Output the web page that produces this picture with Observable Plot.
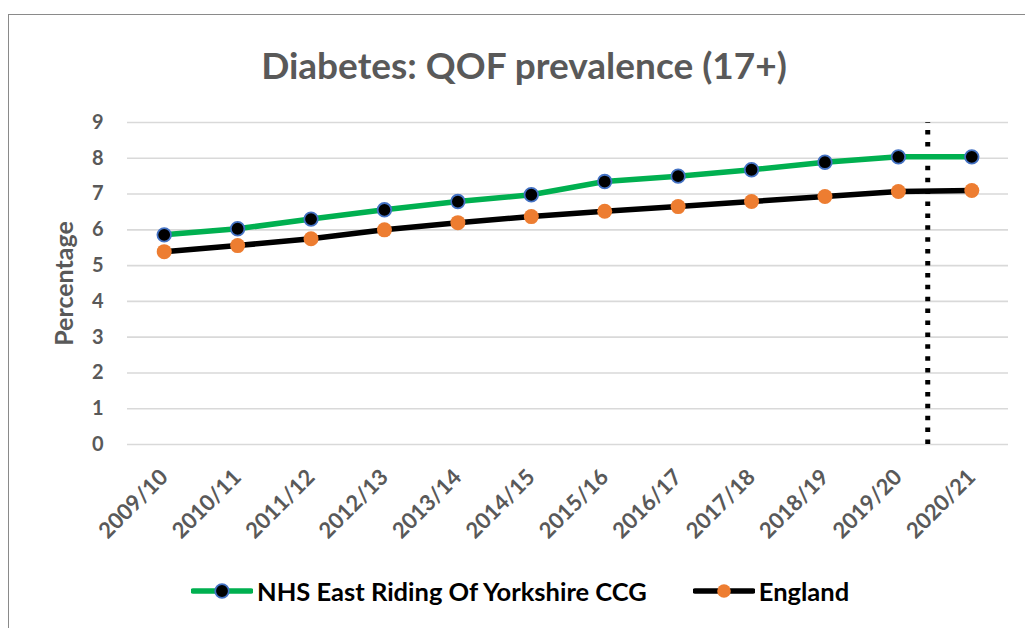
<!DOCTYPE html>
<html>
<head>
<meta charset="utf-8">
<script src="https://cdn.jsdelivr.net/npm/d3@7"></script>
<script src="https://cdn.jsdelivr.net/npm/@observablehq/plot@0.6"></script>
<style>
  html, body { margin: 0; padding: 0; background: #fff; overflow: hidden; }
  body { width: 1025px; height: 628px; position: relative; font-family: Lato, "Open Sans", sans-serif; }
  #frame {
    position: absolute; left: 8px; top: 14px; width: 1040px; height: 640px;
    border-left: 1.5px solid #8a8a8a; border-top: 1.5px solid #8a8a8a; box-sizing: border-box;
  }
  #title {
    position: absolute; left: 0; top: 43px; width: 1048px; text-align: center;
    font-size: 37px; font-weight: 700; color: #595959; line-height: 44px;
  }
  #chart { position: absolute; left: 9px; top: 100px; }
  #legend {
    position: absolute; top: 576px; left: 191px; display: flex; align-items: center;
    font-size: 25.5px; font-weight: 700; color: #000;
  }
  .item { display: flex; align-items: center; margin-right: 46px; }
  .item svg { margin-right: 4px; }
</style>
</head>
<body>
<div id="frame"></div>
<div id="title">Diabetes: QOF prevalence (17+)</div>
<div id="chart"></div>
<div id="legend"></div>
<script>
// Financial years shown along the x axis
const years = ["2009/10", "2010/11", "2011/12", "2012/13", "2013/14", "2014/15",
               "2015/16", "2016/17", "2017/18", "2018/19", "2019/20", "2020/21"];

// Recorded diabetes prevalence, patients aged 17+ (%)
const ccgValues = [5.86, 6.03, 6.30, 6.56, 6.79, 6.98, 7.35, 7.50, 7.68, 7.89, 8.04, 8.04];
const englandValues = [5.39, 5.56, 5.75, 6.00, 6.20, 6.37, 6.52, 6.65, 6.79, 6.93, 7.07, 7.10];

const seriesNames = ["NHS East Riding Of Yorkshire CCG", "England"];
const yTicks = [0, 1, 2, 3, 4, 5, 6, 7, 8, 9];

// Position of the break marker between the last two years (year index units)
const breakAt = 10.4;

const ccg = years.map((year, i) => ({i, year, value: ccgValues[i]}));
const england = years.map((year, i) => ({i, year, value: englandValues[i]}));

const green = "#00b050", blue = "#4472c4", orange = "#ed7d31", grey = "#595959";

const chart = Plot.plot({
  width: 1010,
  height: 440,
  marginLeft: 118,
  marginRight: 11,
  marginTop: 22,
  marginBottom: 96,
  style: {fontFamily: "Lato, 'Open Sans', sans-serif", background: "transparent", overflow: "visible"},
  x: {domain: [-0.5, years.length - 0.5]},
  y: {domain: [0, 9]},
  marks: [
    Plot.ruleY(yTicks, {stroke: "#d9d9d9", strokeWidth: 1.6}),
    Plot.axisY(yTicks, {
      tickSize: 0, tickPadding: 24, fontSize: 20, fontWeight: 700, fill: grey,
      label: "Percentage", labelAnchor: "center", labelArrow: "none", labelOffset: 72
    }),
    Plot.axisX(d3.range(years.length), {
      tickSize: 0, tickRotate: -45, tickPadding: 29, fontSize: 22, fontWeight: 700, fill: grey,
      tickFormat: i => years[i], label: null
    }),
    Plot.ruleX([breakAt], {y1: 0, y2: 9, stroke: "#000", strokeWidth: 5, strokeDasharray: "4.5,7.4"}),
    Plot.line(ccg, {x: "i", y: "value", stroke: green, strokeWidth: 5.5}),
    Plot.line(england, {x: "i", y: "value", stroke: "#000", strokeWidth: 5.5}),
    Plot.dot(ccg, {x: "i", y: "value", r: 6.8, fill: "#000", stroke: blue, strokeWidth: 1.8}),
    Plot.dot(england, {x: "i", y: "value", r: 7.5, fill: orange, stroke: "none"})
  ]
});
chart.querySelectorAll("g[aria-label='y-axis label']").forEach(el => {
  el.setAttribute("font-size", 25);
  el.setAttribute("font-weight", 700);
  el.setAttribute("fill", grey);
});
document.getElementById("chart").appendChild(chart);

// Legend: line swatch with the series marker in its centre
const legend = document.getElementById("legend");
const swatches = [
  {name: seriesNames[0], line: green, fill: "#000", stroke: blue},
  {name: seriesNames[1], line: "#000", fill: orange, stroke: "none"}
];
swatches.forEach(s => {
  const item = document.createElement("div");
  item.className = "item";
  item.innerHTML =
    `<svg width="62" height="20"><line x1="2" x2="60" y1="10" y2="10" stroke="${s.line}" stroke-width="5.5" stroke-linecap="round"/>` +
    `<circle cx="31" cy="10" r="6.8" fill="${s.fill}" stroke="${s.stroke}" stroke-width="1.8"/></svg>` +
    `<span>${s.name}</span>`;
  legend.appendChild(item);
});
</script>
</body>
</html>
